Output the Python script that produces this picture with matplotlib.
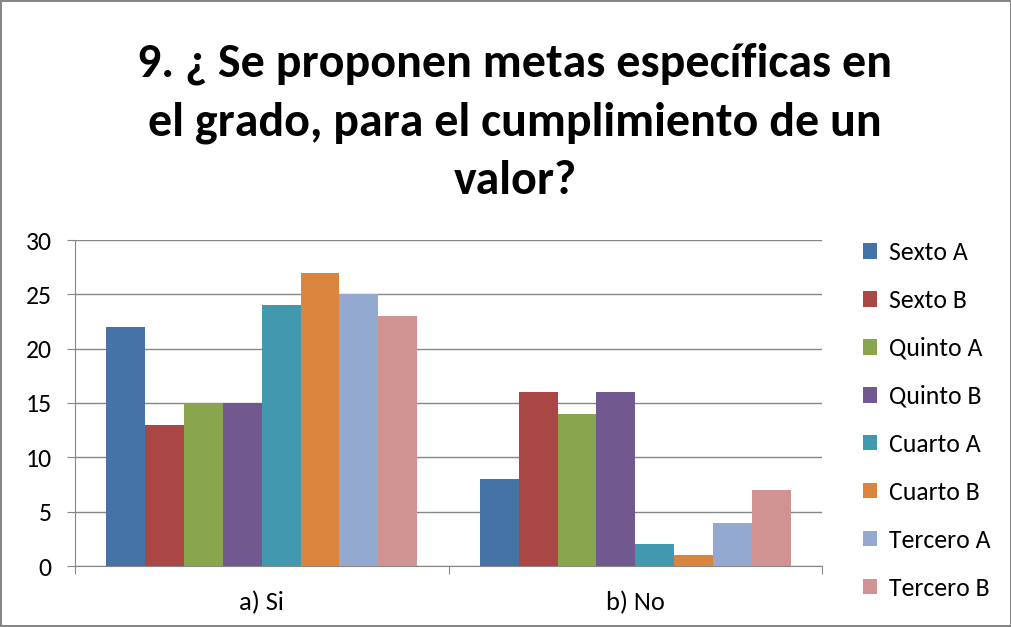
import matplotlib
matplotlib.use("Agg")
import matplotlib.pyplot as plt
import numpy as np
from matplotlib.patches import Patch

categories = ["a) Si", "b) No"]
series_names = ["Sexto A", "Sexto B", "Quinto A", "Quinto B",
                "Cuarto A", "Cuarto B", "Tercero A", "Tercero B"]
values_si = [22, 13, 15, 15, 24, 27, 25, 23]
values_no = [8, 16, 14, 16, 2, 1, 4, 7]
colors = ["#4572A7", "#AA4643", "#89A54E", "#71588F",
          "#4198AF", "#DB843D", "#93A9CF", "#D19392"]
title = "9. ¿ Se proponen metas específicas en\nel grado, para el cumplimiento de un\nvalor?"

plt.rcParams['font.family'] = ['Carlito', 'Lato', 'DejaVu Sans']

fig = plt.figure(figsize=(10.12, 6.27), dpi=100)
fig.patch.set_edgecolor("#868686")
fig.patch.set_linewidth(1.5)

ax = fig.add_axes([75/1012, 1-566/627, 747/1012, 326/627])

x = np.arange(len(categories))
n = len(series_names)
bw = 0.104
data = np.array([values_si, values_no]).T
for i in range(n):
    offs = (i - (n-1)/2) * bw
    ax.bar(x + offs, data[i], width=bw, color=colors[i], label=series_names[i], zorder=3)

ax.set_xlim(-0.5, 1.5)
ax.set_ylim(0, 30)
ax.set_yticks(range(0, 31, 5))
ax.yaxis.grid(True, color="#868686", linewidth=1, zorder=0)
ax.set_xticks([-0.5, 0.5, 1.5], minor=False)
ax.set_xticklabels([])
ax.set_xticks(x, minor=True)
ax.set_xticklabels(categories, minor=True, fontsize=19)
ax.tick_params(axis='x', which='minor', length=0, pad=18)
ax.tick_params(axis='x', which='major', length=6, color="#868686", direction='out')
ax.tick_params(axis='y', length=6, color="#868686", labelsize=18.5, pad=11)
for s in ["top", "right"]:
    ax.spines[s].set_visible(False)
ax.spines["left"].set_color("#868686")
ax.spines["bottom"].set_color("#868686")

fig.text(515/1012, 1-122/627, title, ha="center", va="center",
         fontsize=34.5, fontweight="bold", linespacing=1.48)

handles = [Patch(facecolor=c, label=l) for c, l in zip(colors, series_names)]
fig.legend(handles=handles, loc="upper left", bbox_to_anchor=(840/1012, 1-218/627),
           frameon=False, fontsize=18.5, labelspacing=0.97, handlelength=0.55,
           handleheight=0.55, handletextpad=0.45)

fig.savefig("out.png", dpi=100)
